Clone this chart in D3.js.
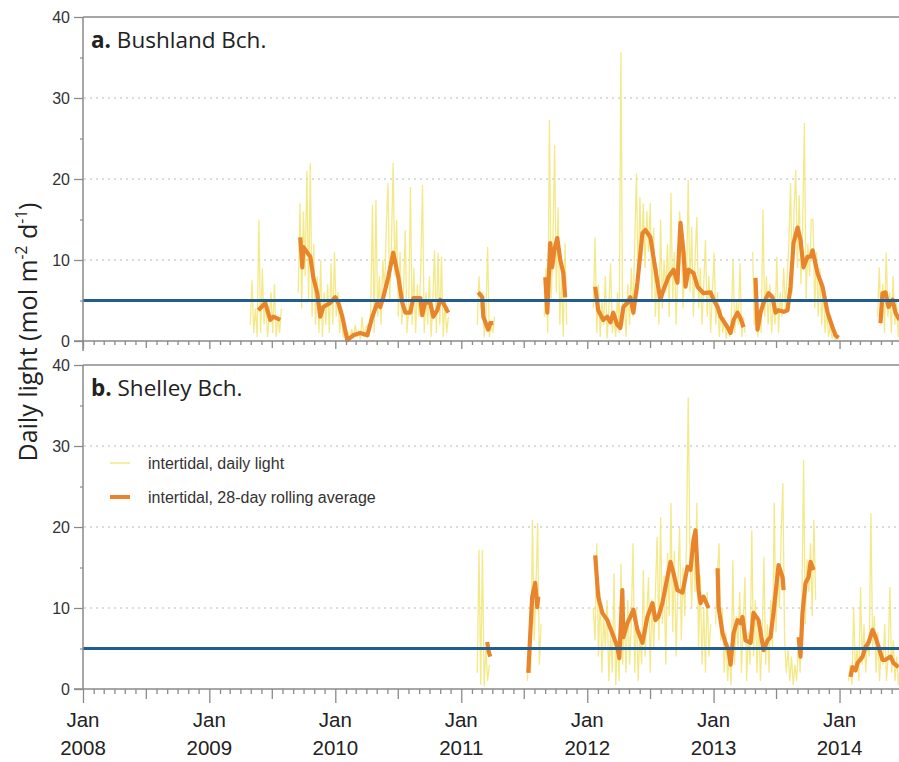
<!DOCTYPE html>
<html><head><meta charset="utf-8">
<script src="https://cdn.jsdelivr.net/npm/d3@7"></script>
<style>
html,body{margin:0;padding:0;background:#fff;}
svg{display:block;}
</style>
</head><body>
<svg id="chart" width="899" height="762"></svg>
<script>
// ---------- DATA ----------
const stepDays = 5; // spacing of the sampled daily readings
const yTicks = [0, 10, 20, 30, 40];
const yMinorTicks = [5, 15, 25, 35];
const threshold = 5;
const panelTitles = [["a.", " Bushland Bch."], ["b.", " Shelley Bch."]];
const legendLabels = ["intertidal, daily light", "intertidal, 28-day rolling average"];
const yLabel = ["Daily light (mol m", "-2", " d", "-1", ")"];

// Bushland Bch. daily light (segment start as decimal year, values every stepDays)
const bushDailyStart = [2009.325, 2009.706, 2011.127, 2011.659, 2012.048, 2013.310, 2014.302];
const bushDaily = [
  [2, 7.5, 1, 4, 0.5, 15, 1, 9, 2, 5, 0.5, 3, 6, 1, 7, 0.5, 3, 1, 4],
  [6, 17, 4, 16, 8, 21, 5, 22, 3, 12,
   2, 8, 1, 10, 0.5, 6, 2, 7, 1, 9.6,
   2, 11, 3, 6, 1, 4, 0.5, 2, 0.3, 1,
   0.2, 1.5, 0.3, 2, 0.5, 1.2, 0.2, 3, 0.5, 1.5,
   2, 0.5, 4, 16.8, 1, 17.4, 3, 8, 2, 10,
   6, 14, 19.5, 5, 12, 22, 8, 15, 3, 11,
   2, 6, 13.7, 1, 4, 19, 2, 9, 1, 7,
   3, 9, 19.3, 1, 6, 2, 8, 0.5, 5, 11.2,
   1, 10.9, 2, 10.4, 0.5, 5, 1, 3],
  [2, 8, 4, 6, 0.5, 3, 11.6, 0.5, 2, 1, 3],
  [3, 9, 1, 27.3, 5, 12, 24.2, 6, 16.5, 2, 8, 0.5, 12.1, 2],
  [4, 12.8, 1, 7, 0.5, 5, 2, 8, 0.3, 4,
   9.6, 1, 3, 0.5, 6, 1, 35.7, 2, 5, 0.5,
   7, 2, 9, 3, 12, 20.7, 6, 17.8, 10, 17,
   9, 16, 11, 17, 5, 14, 3, 9, 2, 15,
   4, 10, 6, 12, 3, 18.3, 5, 11, 2, 9,
   16, 13, 4, 11, 7, 19.9, 6, 14.1, 3, 10,
   15.3, 4, 9, 2, 7, 12.5, 3, 8, 1, 6,
   10.9, 2, 6, 0.5, 4, 1, 3, 0.3, 2, 0.5,
   3, 10, 1, 5, 2, 9.6, 0.5, 3, 1],
  [11, 2, 6, 0.5, 4, 1, 16.2, 3, 8, 2,
   7, 1, 5, 2, 10.4, 1, 6, 3, 9, 4,
   8, 12, 19.5, 6, 16, 21.1, 9, 18, 7, 14,
   26.9, 5, 12, 8, 15, 15, 4, 11, 3, 9,
   2, 7, 1, 4, 0.5, 2, 0.3, 1, 0.2, 0.5, 0.2],
  [3, 9.1, 2, 7, 1, 10.9, 3, 6, 1, 8, 2, 5, 0.5, 4, 1]
];
// Bushland Bch. 28-day rolling average ([decimal year, value])
const bushAvg = [
  [[2009.389,3.8],[2009.444,4.7],[2009.484,2.6],[2009.508,3.0],[2009.563,2.6]],
  [[2009.722,12.8],[2009.738,9.1],[2009.746,11.6],[2009.778,10.9],[2009.802,10.4],[2009.825,7.9],
   [2009.857,5.9],[2009.881,3.0],[2009.905,4.2],[2009.960,4.7],[2010.000,5.4],[2010.024,4.7],
   [2010.056,3.0],[2010.095,0.1],[2010.143,0.7],[2010.198,1.0],[2010.254,0.7],[2010.294,3.0],
   [2010.333,4.7],[2010.357,4.2],[2010.381,5.4],[2010.421,7.9],[2010.460,10.9],[2010.500,7.9],
   [2010.532,4.7],[2010.556,3.5],[2010.595,3.5],[2010.619,5.3],[2010.675,5.3],[2010.690,3.2],
   [2010.714,4.8],[2010.754,4.7],[2010.778,3.0],[2010.810,3.8],[2010.833,5.1],[2010.857,4.7],
   [2010.897,3.5]],
  [[2011.135,6.0],[2011.167,5.4],[2011.175,3.0],[2011.214,1.4],[2011.230,2.2],[2011.254,2.2]],
  [[2011.667,7.9],[2011.683,3.5],[2011.706,12.1],[2011.722,9.1],[2011.738,11.2],[2011.762,12.7],
   [2011.786,10.0],[2011.810,8.4],[2011.825,5.4]],
  [[2012.063,6.7],[2012.087,3.8],[2012.127,2.6],[2012.159,3.0],[2012.183,2.3],[2012.206,3.5],
   [2012.238,2.0],[2012.262,1.6],[2012.286,4.2],[2012.317,4.7],[2012.341,5.4],[2012.365,3.5],
   [2012.397,7.2],[2012.437,13.3],[2012.460,13.7],[2012.500,12.8],[2012.524,10.4],[2012.556,7.2],
   [2012.579,5.1],[2012.603,6.3],[2012.643,7.9],[2012.683,8.8],[2012.714,7.2],[2012.738,14.6],
   [2012.762,11.0],[2012.778,6.7],[2012.802,8.8],[2012.841,8.4],[2012.873,6.7],[2012.897,6.3],
   [2012.921,5.9],[2012.976,6.0],[2013.000,5.1],[2013.032,4.2],[2013.056,3.0],[2013.111,1.7],
   [2013.135,1.0],[2013.159,2.6],[2013.190,3.5],[2013.214,2.8],[2013.238,1.7]],
  [[2013.333,7.8],[2013.349,1.4],[2013.373,3.5],[2013.397,4.7],[2013.437,5.9],[2013.468,5.4],
   [2013.492,3.5],[2013.516,3.8],[2013.556,3.6],[2013.587,3.8],[2013.611,6.7],[2013.635,12.1],
   [2013.667,14.0],[2013.690,12.5],[2013.714,9.1],[2013.746,10.4],[2013.770,10.4],[2013.786,11.2],
   [2013.825,8.4],[2013.865,6.7],[2013.905,3.5],[2013.944,1.7],[2013.968,0.7],[2013.992,0.4]],
  [[2014.325,2.2],[2014.341,5.9],[2014.365,6.0],[2014.389,4.2],[2014.421,5.1],[2014.444,3.5],[2014.476,2.6]]
];

// Shelley Bch. daily light
const shelDailyStart = [2011.127, 2011.524, 2012.048, 2013.016, 2014.071];
const shelDaily = [
  [2, 17.2, 0.5, 17.2, 0.3, 5, 1, 3],
  [1, 5, 2, 20.9, 6, 12, 20.5, 3, 8],
  [10, 6, 18, 4, 12, 2, 9, 5, 11, 1,
   7, 2, 14.3, 0.5, 6, 1, 15.5, 3, 9, 2,
   11, 3, 8, 18, 2, 10, 1, 7, 3, 14.7,
   4, 9, 13.8, 2, 11, 5, 12, 18.8, 6, 21.2,
   8, 14, 3, 16.8, 9, 23, 7, 17, 4, 13,
   20, 6, 15, 9, 18, 36, 16.8, 10, 19, 12,
   23, 5, 14, 3, 10, 2, 12, 4, 8],
  [8, 14, 18, 6, 10, 2, 7, 1, 5, 0.5,
   15.9, 3, 9, 5, 12, 2, 8, 13.8, 1, 7,
   3, 19.6, 4, 11, 2, 9, 1, 6, 16.3, 3,
   8, 2, 11, 5, 23, 7, 15, 10, 19, 25.4,
   6, 2, 5, 1, 4, 0.5, 3, 1, 6, 2,
   10, 28.3, 8, 16, 12, 18, 9, 20.9, 11],
  [1, 3, 0.5, 10.1, 2, 5, 1, 12.6, 3, 8,
   2, 6, 4, 21.7, 5, 9, 2, 7, 1, 5,
   3, 8, 1, 4, 12.6, 2, 6, 1, 4, 0.5, 3]
];
// Shelley Bch. 28-day rolling average
const shelAvg = [
  [[2011.206,5.8],[2011.218,4.6],[2011.230,4.0]],
  [[2011.532,2.0],[2011.563,11.4],[2011.587,13.1],[2011.603,10.1],[2011.611,11.4]],
  [[2012.063,16.5],[2012.087,11.4],[2012.119,9.4],[2012.159,8.5],[2012.198,6.9],[2012.238,5.2],
   [2012.254,3.8],[2012.278,12.2],[2012.286,6.4],[2012.317,8.1],[2012.341,8.9],[2012.365,9.8],
   [2012.397,7.3],[2012.437,5.7],[2012.476,8.9],[2012.516,10.6],[2012.540,8.5],[2012.563,8.9],
   [2012.595,10.6],[2012.635,13.8],[2012.659,15.7],[2012.683,14.3],[2012.714,12.2],[2012.754,11.9],
   [2012.794,15.1],[2012.817,14.7],[2012.841,18.4],[2012.857,19.6],[2012.881,12.2],[2012.897,10.6],
   [2012.921,11.4],[2012.960,10.0]],
  [[2013.032,14.9],[2013.040,10.1],[2013.071,6.9],[2013.095,5.7],[2013.119,4.8],[2013.135,3.0],
   [2013.159,6.9],[2013.190,8.5],[2013.214,8.1],[2013.230,8.9],[2013.254,6.0],[2013.294,5.7],
   [2013.317,9.4],[2013.357,8.5],[2013.397,4.8],[2013.429,6.0],[2013.452,6.4],[2013.476,9.4],
   [2013.516,15.3],[2013.548,13.8],[2013.556,12.2]],
  [[2013.675,6.4],[2013.690,4.0],[2013.706,9.4],[2013.730,13.1],[2013.754,13.8],[2013.770,15.7],[2013.794,14.7]],
  [[2014.087,1.5],[2014.103,2.7],[2014.127,2.3],[2014.143,3.2],[2014.183,4.0],[2014.206,5.2],
   [2014.230,5.7],[2014.262,7.3],[2014.286,6.4],[2014.310,5.2],[2014.341,3.6],[2014.365,3.6],
   [2014.405,4.0],[2014.429,3.2],[2014.468,2.7]]
];

// ---------- DRAW ----------
const svg = d3.select("#chart");
const W = 899;
const DAY = 86400000;
function yrToDate(y) {
  const Y = Math.floor(y);
  const s = Date.UTC(Y, 0, 1), e = Date.UTC(Y + 1, 0, 1);
  return new Date(s + (y - Y) * (e - s));
}
const x = d3.scaleUtc()
  .domain([new Date(Date.UTC(2008, 0, 1)), new Date(Date.UTC(2014, 6, 1))])
  .range([83, 902]);

const months = d3.utcMonth.range(new Date(Date.UTC(2008, 0, 1)), new Date(Date.UTC(2014, 6, 2)));
const jans = months.filter(d => d.getUTCMonth() === 0);

const panels = [
  {top: 17, bottom: 341, daily: bushDaily, starts: bushDailyStart, avg: bushAvg, title: panelTitles[0], tickLen: [4, 7, 8]},
  {top: 365, bottom: 689, daily: shelDaily, starts: shelDailyStart, avg: shelAvg, title: panelTitles[1], tickLen: [5, 10, 14]}
];

const YELLOW = "#f1e36c", ORANGE = "#e8852c", BLUE = "#225d90", AXIS = "#8a8a8a";

svg.append("defs").append("clipPath").attr("id", "clipAll")
  .append("rect").attr("x", 83).attr("y", 0).attr("width", W - 83).attr("height", 762);

panels.forEach((p, pi) => {
  const y = d3.scaleLinear().domain([0, 40]).range([p.bottom, p.top]);
  const g = svg.append("g");

  // gridlines
  g.selectAll("line.grid").data([10, 20, 30]).join("line")
    .attr("x1", 84).attr("x2", W).attr("y1", d => y(d)).attr("y2", d => y(d))
    .attr("stroke", "#b8b8b8").attr("stroke-width", 1).attr("stroke-dasharray", "2,4");

  const plot = g.append("g").attr("clip-path", "url(#clipAll)");

  // daily light
  const line = d3.line().x(d => x(d[0])).y(d => y(d[1]));
  p.daily.forEach((vals, si) => {
    const s = yrToDate(p.starts[si]).getTime();
    const pts = vals.map((v, i) => [new Date(s + i * stepDays * DAY), v]);
    plot.append("path").attr("d", line(pts)).attr("fill", "none")
      .attr("stroke", YELLOW).attr("stroke-width", 1.3).attr("stroke-opacity", 0.8);
  });

  // rolling average
  p.avg.forEach(seg => {
    const pts = seg.map(d => [yrToDate(d[0]), d[1]]);
    plot.append("path").attr("d", line(pts)).attr("fill", "none")
      .attr("stroke", ORANGE).attr("stroke-width", 4.2)
      .attr("stroke-linejoin", "round").attr("stroke-linecap", "butt");
  });

  // threshold line
  g.append("line").attr("x1", 83).attr("x2", W).attr("y1", y(threshold)).attr("y2", y(threshold))
    .attr("stroke", BLUE).attr("stroke-width", 3.2);

  // top frame
  g.append("line").attr("x1", 83).attr("x2", W).attr("y1", p.top).attr("y2", p.top)
    .attr("stroke", AXIS).attr("stroke-width", 1.5);

  // x axis (monthly ticks)
  const xa = g.append("g").attr("transform", `translate(0,${p.bottom})`)
    .call(d3.axisBottom(x).tickValues(months).tickSize(p.tickLen[0]).tickFormat(() => "").tickSizeOuter(0));
  xa.select(".domain").remove();
  xa.selectAll(".tick line")
    .attr("y2", d => d.getUTCMonth() === 0 ? p.tickLen[2] : (d.getUTCMonth() === 6 ? p.tickLen[1] : p.tickLen[0]))
    .attr("stroke", AXIS).attr("stroke-width", 1.3);
  g.append("line").attr("x1", 74).attr("x2", W).attr("y1", p.bottom).attr("y2", p.bottom)
    .attr("stroke", AXIS).attr("stroke-width", 1.5);

  // y axis
  const ya = g.append("g").attr("transform", "translate(83,0)")
    .call(d3.axisLeft(y).tickValues(yTicks).tickSize(9).tickPadding(4).tickSizeOuter(0));
  ya.select(".domain").attr("stroke", AXIS).attr("stroke-width", 1.5)
    .attr("d", `M0,${p.top}V${p.bottom + (pi === 0 ? 10 : 0)}`);
  ya.selectAll(".tick line").attr("stroke", AXIS).attr("stroke-width", 1.3);
  ya.selectAll(".tick text").attr("font-family", "Liberation Sans, Arial, sans-serif")
    .attr("font-size", 16).attr("fill", "#333");
  const ym = g.append("g").attr("transform", "translate(83,0)")
    .call(d3.axisLeft(y).tickValues(yMinorTicks).tickSize(3).tickFormat(() => ""));
  ym.select(".domain").remove();
  ym.selectAll(".tick line").attr("stroke", AXIS).attr("stroke-width", 1.2);

  // title
  const t = g.append("text").attr("x", 91).attr("y", p.top + 31)
    .attr("font-family", "Open Sans, sans-serif").attr("font-size", 22.5).attr("fill", "#222");
  t.append("tspan").attr("font-weight", "bold").text(p.title[0]);
  t.append("tspan").text(p.title[1]);

  if (pi === 1) {
    // Jan / year labels
    const lab = g.append("g").selectAll("text").data(jans).join("text")
      .attr("x", d => x(d)).attr("text-anchor", "middle")
      .attr("font-family", "Liberation Sans Narrow, Arial Narrow, Liberation Sans, sans-serif")
      .attr("font-size", 20.5).attr("fill", "#222");
    lab.append("tspan").attr("x", d => x(d)).attr("y", 727).text("Jan");
    lab.append("tspan").attr("x", d => x(d)).attr("y", 755).text(d => d.getUTCFullYear());

    // legend
    const lg = g.append("g");
    lg.append("line").attr("x1", 110).attr("x2", 130).attr("y1", 463).attr("y2", 463)
      .attr("stroke", YELLOW).attr("stroke-width", 1.2);
    lg.append("line").attr("x1", 110).attr("x2", 130).attr("y1", 497).attr("y2", 497)
      .attr("stroke", ORANGE).attr("stroke-width", 4);
    lg.selectAll("text").data(legendLabels).join("text")
      .attr("x", 148).attr("y", (d, i) => 469 + i * 34)
      .attr("font-family", "Liberation Sans, Arial, sans-serif").attr("font-size", 16)
      .attr("fill", "#333").text(d => d);
  }
});

// y label
const yl = svg.append("text").attr("transform", "translate(37,332) rotate(-90)")
  .attr("text-anchor", "middle").attr("font-family", "Open Sans, sans-serif")
  .attr("font-size", 25).attr("fill", "#222");
yl.append("tspan").text(yLabel[0]);
yl.append("tspan").attr("font-size", 15.5).attr("dy", -10).text(yLabel[1]);
yl.append("tspan").attr("dy", 10).text(yLabel[2]);
yl.append("tspan").attr("font-size", 15.5).attr("dy", -10).text(yLabel[3]);
yl.append("tspan").attr("dy", 10).text(yLabel[4]);
</script>
</body></html>
